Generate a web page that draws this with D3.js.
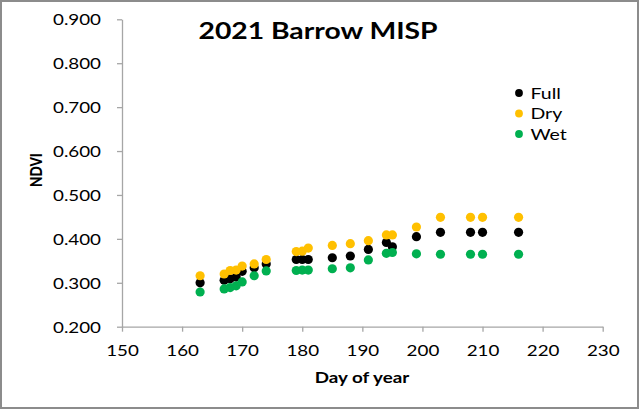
<!DOCTYPE html>
<html>
<head>
<meta charset="utf-8">
<script src="https://cdn.jsdelivr.net/npm/d3@7"></script>
<style>
  html, body { margin: 0; padding: 0; background: #fff; }
  svg { display: block; }
  text { font-family: Lato, "Open Sans", sans-serif; fill: #000; }
</style>
</head>
<body>
<div id="chart"></div>
<script>
// day of year of each survey
var days = [163, 167, 168, 169, 170, 172, 174, 179, 180, 181, 185, 188, 191, 194, 195, 199, 203, 208, 210, 216];
// NDVI per treatment
var fullNdvi = [0.300, 0.306, 0.309, 0.313, 0.326, 0.334, 0.343, 0.353, 0.353, 0.353, 0.357, 0.361, 0.376, 0.392, 0.382, 0.405, 0.415, 0.415, 0.415, 0.415];
var dryNdvi  = [0.316, 0.320, 0.328, 0.329, 0.338, 0.343, 0.353, 0.371, 0.372, 0.379, 0.385, 0.389, 0.396, 0.409, 0.409, 0.427, 0.449, 0.449, 0.449, 0.449];
var wetNdvi  = [0.279, 0.286, 0.289, 0.293, 0.302, 0.316, 0.327, 0.328, 0.329, 0.329, 0.332, 0.334, 0.352, 0.367, 0.369, 0.366, 0.365, 0.365, 0.365, 0.365];
var seriesNames = ["Full", "Dry", "Wet"];
var xTicks = [150, 160, 170, 180, 190, 200, 210, 220, 230];
var yTicks = [0.2, 0.3, 0.4, 0.5, 0.6, 0.7, 0.8, 0.9];

var W = 639, H = 409;
var SX = 1.22; // the picture is a bit stretched sideways, so is the text
var colors = {"Full": "#000000", "Dry": "#FFC000", "Wet": "#00B050"};
var axisColor = "#a6a6a6";

var series = [
  {name: "Full", values: fullNdvi},
  {name: "Dry", values: dryNdvi},
  {name: "Wet", values: wetNdvi}
];

var svg = d3.select("#chart").append("svg")
  .attr("width", W).attr("height", H);

// outer frame
svg.append("rect")
  .attr("x", 1).attr("y", 1)
  .attr("width", W - 2).attr("height", H - 2)
  .attr("fill", "#fff")
  .attr("stroke", "#8c8c8c")
  .attr("stroke-width", 2);

var x = d3.scaleLinear().domain([150, 230]).range([122, 602.7]);
var y = d3.scaleLinear().domain([0.2, 0.9]).range([326.7, 19.3]);

// y axis
var gy = svg.append("g")
  .attr("transform", "translate(" + x.range()[0] + ",0)")
  .call(d3.axisLeft(y).tickValues(yTicks).tickFormat(d3.format(".3f")).tickSize(5).tickSizeOuter(0));
gy.selectAll("text")
  .attr("x", -21 / SX)
  .attr("dy", "0.36em")
  .attr("transform", "scale(" + SX + ",1)")
  .style("font-size", "15.4px")
  .style("font-family", "Lato, sans-serif");

// x axis
var gx = svg.append("g")
  .attr("transform", "translate(0," + y.range()[0] + ")")
  .call(d3.axisBottom(x).tickValues(xTicks).tickFormat(d3.format("d")).tickSize(5).tickSizeOuter(0));
gx.selectAll("text")
  .attr("y", 18)
  .attr("dy", "0.71em")
  .attr("transform", "scale(" + SX + ",1)")
  .style("font-size", "15.4px")
  .style("font-family", "Lato, sans-serif");

[gx, gy].forEach(function(g){
  g.select(".domain").attr("stroke", axisColor).attr("stroke-width", 1.3);
  g.selectAll(".tick line").attr("stroke", axisColor).attr("stroke-width", 1.3);
  g.selectAll("text").attr("fill", "#000");
});

// points
series.forEach(function(s){
  svg.append("g").selectAll("circle")
    .data(s.values)
    .join("circle")
    .attr("cx", function(d, i){ return x(days[i]); })
    .attr("cy", function(d){ return y(d); })
    .attr("r", 4.6)
    .attr("fill", colors[s.name]);
});

// text that gets the sideways stretch
function label(px, py, str, size, weight, anchor, rot){
  var tr = "translate(" + px + "," + py + ") scale(" + SX + ",1)";
  if(rot){ tr += " rotate(" + rot + ")"; }
  return svg.append("text")
    .attr("transform", tr)
    .attr("text-anchor", anchor)
    .style("font-size", size + "px")
    .style("font-weight", weight)
    .text(str);
}

label(318, 39.3, "2021 Barrow MISP", 23.2, "bold", "middle");
label(362, 383.3, "Day of year", 15.4, "bold", "middle");
label(41.5, 170, "NDVI", 13.5, "900", "middle", -90);

// legend
var legend = svg.append("g");
seriesNames.forEach(function(name, i){
  var ly = 93 + i * 20.5;
  legend.append("circle")
    .attr("cx", 519).attr("cy", ly)
    .attr("r", 3.9)
    .attr("fill", colors[name]);
  label(530.5, ly + 5.7, name, 16, "normal", "start");
});
</script>
</body>
</html>
